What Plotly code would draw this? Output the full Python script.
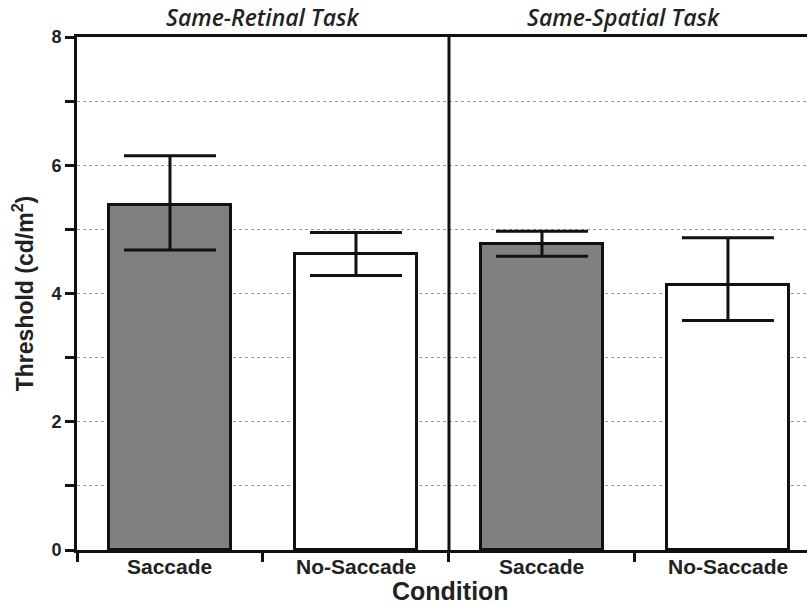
import plotly.graph_objects as go

categories = ["Saccade", "No-Saccade", "Saccade ", "No-Saccade "]
tick_labels = ["Saccade", "No-Saccade", "Saccade", "No-Saccade"]
means = [5.38, 4.62, 4.77, 4.13]
err_plus = [0.77, 0.33, 0.20, 0.74]
err_minus = [0.70, 0.34, 0.19, 0.55]
bar_colors = ["#808080", "#ffffff", "#808080", "#ffffff"]
panel_titles = ["Same-Retinal Task", "Same-Spatial Task"]

fig = go.Figure()
fig.add_trace(go.Bar(
    x=categories, y=means,
    marker=dict(color=bar_colors, line=dict(color="#111", width=3)),
    width=0.656,
    error_y=dict(type="data", symmetric=False, array=err_plus, arrayminus=err_minus,
                 color="#111", thickness=3, width=46),
    showlegend=False,
))

fig.update_layout(
    width=807, height=606,
    margin=dict(l=77, r=0, t=37, b=56),
    plot_bgcolor="white", paper_bgcolor="white",
    font=dict(family="Liberation Sans, Arial", color="#222"),
    bargap=0.0,
)
fig.update_xaxes(
    type="category", range=[-0.5, 3.425],
    tickvals=categories, showticklabels=False,
    tickson="boundaries", ticks="outside", ticklen=9, tickwidth=3, tickcolor="#111",
    showline=True, linewidth=3, linecolor="#111", mirror=True,
    showgrid=False,
)
fig.update_yaxes(
    range=[0, 8], tickvals=[0, 2, 4, 6, 8],
    ticks="outside", ticklen=9, tickwidth=3, tickcolor="#111",
    tickfont=dict(size=18, weight="bold", color="#222"),
    showline=True, linewidth=3, linecolor="#111",
    showgrid=True, gridcolor="#999999", gridwidth=1, griddash="dot",
    minor=dict(dtick=1, ticks="outside", ticklen=9, tickwidth=3, tickcolor="#111",
               showgrid=True, gridcolor="#999999", gridwidth=1, griddash="dot"),
    zeroline=False,
    title=dict(text="Threshold (cd/m<sup>2</sup>)", font=dict(size=23, weight="bold", color="#222"), standoff=12),
)
fig.add_shape(type="line", xref="x", yref="y", x0=1.5, x1=1.5, y0=0, y1=8,
              line=dict(color="#111", width=3))
for c, lab in zip(categories, tick_labels):
    fig.add_annotation(x=c, y=0, xref="x", yref="y", yanchor="middle", yshift=-16,
                       text=lab, showarrow=False,
                       font=dict(size=21, weight="bold", color="#222"))
fig.add_annotation(x=0.512, y=0, xref="paper", yref="paper", yanchor="middle", yshift=-41,
                   text="Condition", showarrow=False,
                   font=dict(size=25, weight="bold", color="#222"))
for i, t in enumerate(panel_titles):
    xc = 0.5 if i == 0 else 2.44
    fig.add_annotation(x=xc, y=1, xref="x", yref="paper", yanchor="middle", yshift=20,
                       text=t, showarrow=False,
                       font=dict(family="Open Sans, Lato", size=23, style="italic", weight=600, color="#222"))

fig.write_html("out.html")
